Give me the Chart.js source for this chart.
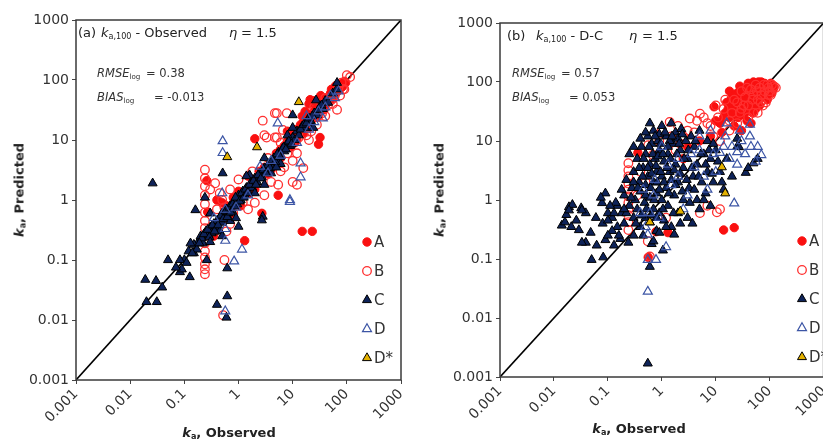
<!DOCTYPE html>
<html>
<head>
<meta charset="utf-8">
<script src="https://cdn.jsdelivr.net/npm/chart.js@4/dist/chart.umd.min.js"></script>
<style>
  html, body { margin: 0; padding: 0; background: #fff; overflow: hidden; width: 823px; height: 440px; }
  canvas { position: absolute; top: 0; }
  #chart-obs { left: 0; }
  #chart-dc { left: 410px; }
  .t { position: absolute; font-family: "DejaVu Sans", sans-serif; color: #222; white-space: nowrap; line-height: 1; }
  .t sub { font-size: 0.62em; vertical-align: -0.3em; line-height: 0; }
  .ttl { font-size: 13px; }
  .stat { font-size: 11.5px; color: #333; }
  .ax { font-size: 13px; font-weight: bold; transform: translate(-50%, -50%); }
  .ax.rot { transform: translate(-50%, -50%) rotate(-90deg); }
</style>
</head>
<body>
<canvas id="chart-obs" width="410" height="440"></canvas>
<canvas id="chart-dc" width="420" height="440"></canvas>

<!-- panel (a) annotations -->
<div class="t ttl" style="left:78px;top:26px">(a)</div>
<div class="t ttl" style="left:101px;top:26px"><i>k</i><sub>a,100</sub> - Observed</div>
<div class="t ttl" style="left:229px;top:26px"><i>η</i></div>
<div class="t ttl" style="left:241px;top:26px">= 1.5</div>
<div class="t stat" style="left:97px;top:68px"><i>RMSE</i><sub>log</sub></div>
<div class="t stat" style="left:146px;top:68px">= 0.38</div>
<div class="t stat" style="left:97px;top:92px"><i>BIAS</i><sub>log</sub></div>
<div class="t stat" style="left:154px;top:92px">= -0.013</div>
<div class="t ax rot" style="left:19px;top:190px"><i>k</i><sub>a</sub>, Predicted</div>
<div class="t ax" style="left:229px;top:432px"><i>k</i><sub>a</sub>, Observed</div>

<!-- panel (b) annotations -->
<div class="t ttl" style="left:507px;top:29px">(b)</div>
<div class="t ttl" style="left:536px;top:29px"><i>k</i><sub>a,100</sub> - D-C</div>
<div class="t ttl" style="left:629px;top:29px"><i>η</i></div>
<div class="t ttl" style="left:642px;top:29px">= 1.5</div>
<div class="t stat" style="left:512px;top:68px"><i>RMSE</i><sub>log</sub></div>
<div class="t stat" style="left:561px;top:68px">= 0.57</div>
<div class="t stat" style="left:512px;top:92px"><i>BIAS</i><sub>log</sub></div>
<div class="t stat" style="left:569px;top:92px">= 0.053</div>
<div class="t ax rot" style="left:439px;top:190px"><i>k</i><sub>a</sub>, Predicted</div>
<div class="t ax" style="left:639px;top:428px"><i>k</i><sub>a</sub>, Observed</div>

<script>
"use strict";

const TICKS = [0.001, 0.01, 0.1, 1, 10, 100, 1000];
const TICK_LABELS = ["0.001", "0.01", "0.1", "1", "10", "100", "1000"];
const LEGEND_LABELS = ["A", "B", "C", "D", "D*"];
const DIAGONAL = [[0.001, 0.001], [1000, 1000]];

/* (a) k_a,100 vs observed — [observed, predicted] */
const OBS_A = [
  [0.26, 2.1], [0.4, 1.0], [0.27, 0.63], [1.3, 0.21], [2.7, 0.6], [15, 0.3], [23, 0.3], [5.4, 1.2],
  [2.0, 10.5], [32, 11], [30, 8.5], [21, 47], [43, 41],
  [0.5, 0.9], [0.8, 1.1], [1.0, 1.4], [1.5, 2.5], [2.0, 1.5], [3, 3.5], [4, 3.2], [5, 6], [6, 5],
  [7, 8], [8, 9.5], [9, 7.5], [10, 12], [11, 9], [12, 10], [12, 15], [14, 18], [16, 13], [17, 30],
  [18, 22], [20, 16], [20, 40], [22, 27], [25, 30], [25, 45], [28, 24], [30, 36], [33, 55], [35, 40],
  [38, 32], [42, 50], [45, 45], [50, 60], [55, 48], [60, 70], [65, 62], [70, 80], [80, 75], [90, 95],
  [8, 14], [15, 25],
  [0.3, 0.3], [0.35, 0.25], [0.6, 0.8], [0.7, 0.55], [1.1, 0.8], [1.6, 1.3], [2.4, 3], [3.5, 2.7],
  [4.5, 4], [6, 7], [9, 11], [13, 13], [16, 20], [19, 17], [23, 22], [27, 33], [31, 28], [37, 42],
  [47, 52], [52, 70], [58, 55], [62, 80], [75, 85], [85, 80], [95, 90],
];
const OBS_B = [
  [0.24, 3.2], [0.24, 2.3], [0.24, 1.7], [0.24, 1.2], [0.24, 0.85], [0.24, 0.62], [0.24, 0.45],
  [0.24, 0.34], [0.24, 0.25], [0.24, 0.19], [0.24, 0.14], [0.24, 0.11], [0.24, 0.085], [0.24, 0.07],
  [0.24, 0.058], [0.55, 0.1], [0.55, 0.5], [0.55, 0.75], [0.52, 0.012],
  [0.3, 1.5], [0.37, 1.9], [0.45, 1.3], [0.7, 1.5], [1.0, 2.2], [1.2, 0.9], [0.8, 0.6],
  [4.7, 28], [2.8, 21], [3.0, 12], [4.7, 11], [6.6, 14.7], [9.6, 8.9], [7.8, 28], [5.1, 28], [3.3, 11],
  [5.1, 11], [10, 2.0], [12, 1.8], [5.4, 1.8], [15.7, 3.4], [1.8, 3], [2.5, 2], [3.5, 5], [6, 9], [8, 6],
  [13, 11], [18, 12], [20, 18], [25, 35], [30, 25], [35, 28], [40, 50], [45, 38], [50, 45], [60, 55],
  [66, 32], [70, 75], [80, 90], [85, 70], [100, 120], [115, 112],
  [0.6, 0.3], [0.7, 0.4], [1.5, 0.7], [2, 0.9], [3, 1.2], [4, 2], [7, 3.5], [12, 6], [20, 10],
  [22, 14], [28, 18], [40, 25], [55, 40], [75, 55], [90, 70], [0.4, 0.7], [0.5, 1.0], [6, 3], [10, 4.5],
];
const OBS_C = [
  [0.1, 0.1], [0.12, 0.14], [0.15, 0.13], [0.18, 0.2], [0.2, 0.25], [0.22, 0.19], [0.25, 0.3],
  [0.28, 0.26], [0.3, 0.35], [0.32, 0.28], [0.35, 0.4], [0.38, 0.33], [0.4, 0.45], [0.45, 0.5],
  [0.5, 0.42], [0.5, 0.6], [0.55, 0.55], [0.6, 0.7], [0.65, 0.6], [0.7, 0.8], [0.75, 0.68], [0.8, 0.9],
  [0.9, 1.0], [0.95, 0.85], [1.0, 1.2], [1.1, 1.0], [1.2, 1.4], [1.3, 1.2], [1.4, 1.6], [1.5, 1.4],
  [1.7, 1.9], [1.8, 1.6], [2.0, 2.3], [2.2, 2.0], [2.5, 2.8], [2.7, 2.4], [3.0, 3.4], [3.3, 3.0],
  [3.6, 4.0], [4.0, 3.7], [4.5, 5.0], [5.0, 4.6], [5.5, 6.2], [6.0, 5.5], [6.5, 7.2], [7.0, 6.5],
  [8.0, 9.0], [9.0, 8.0], [10, 11], [11, 10], [12, 14], [13, 12], [15, 17], [17, 16], [19, 22],
  [22, 20], [25, 28], [28, 26], [32, 36], [36, 33], [40, 45], [45, 42], [55, 60], [65, 70], [66, 90],
  [8, 12], [10, 16], [6, 4], [4, 2.8], [2, 1.3], [0.7, 0.45], [1.6, 2.6], [3, 5], [0.45, 0.3],
  [0.15, 0.18], [0.17, 0.15], [0.21, 0.23], [0.23, 0.27], [0.27, 0.32], [0.29, 0.24], [0.33, 0.38],
  [0.36, 0.3], [0.42, 0.38], [0.47, 0.55], [0.52, 0.48], [0.58, 0.65], [0.62, 0.52], [0.68, 0.75],
  [0.72, 0.62], [0.78, 0.85], [0.85, 0.78], [0.88, 1.1], [1.05, 0.95], [1.15, 1.3], [1.25, 1.1],
  [1.35, 1.5], [1.45, 1.3], [1.6, 1.8], [1.9, 2.1], [2.1, 1.8], [2.3, 2.6], [2.6, 2.3], [2.9, 3.2],
  [3.2, 2.8], [3.5, 3.8], [3.8, 3.4], [4.2, 4.6], [4.8, 4.3], [5.2, 5.8], [5.8, 5.2], [6.8, 7.5],
  [7.5, 7], [8.5, 9.5], [9.5, 8.5], [14, 15], [16, 18], [18, 19], [20, 23], [23, 25], [30, 32],
  [34, 38], [0.3, 0.6], [0.5, 0.25], [0.9, 0.5], [1.4, 2.5], [5, 3.5], [3, 1.8],
  [0.026, 1.9], [0.019, 0.047], [0.03, 0.045], [0.039, 0.035], [0.02, 0.02], [0.031, 0.02],
  [0.05, 0.1], [0.083, 0.1], [0.083, 0.063], [0.126, 0.052], [0.14, 0.13], [0.13, 0.19],
  [0.19, 0.19], [0.3, 0.2], [0.4, 0.018], [0.62, 0.025], [0.6, 0.011], [0.62, 0.073], [0.26, 0.1],
  [0.51, 2.8], [24, 16], [10, 26], [27, 46], [0.16, 0.68], [2.8, 0.53], [2.7, 0.46], [1.0, 0.36],
  [0.09, 0.07], [0.11, 0.09], [0.07, 0.075], [0.24, 1.1],
];
const OBS_D = [
  [0.51, 9.6], [0.51, 6.1], [5.3, 19], [8.9, 1.0], [14, 4.1], [14, 2.4], [36, 23], [2.5, 3.6],
  [8.9, 0.93], [1.16, 0.15], [0.83, 0.095], [0.57, 0.33], [0.57, 0.21], [0.57, 0.69], [0.57, 0.014],
  [20, 15], [40, 35], [50, 55], [30, 30], [60, 50], [12, 9], [6, 5.5], [3.5, 2.8], [1.5, 1.2],
  [0.9, 0.75], [0.35, 0.5], [0.5, 1.3], [18, 25], [70, 65], [4, 4.5], [25, 20],
];
const OBS_DSTAR = [[13, 43], [2.2, 7.6], [0.62, 5.2]];

/* (b) k_a,100 vs D-C — [observed, predicted] */
const DC_A = [
  [0.36, 6.3], [9.3, 38], [14, 0.31], [22, 0.34], [0.78, 0.29], [1.3, 0.28], [0.56, 0.107],
  [12, 20], [15, 30], [18, 25], [20, 40], [22, 18], [25, 35], [28, 50], [30, 28], [32, 60], [35, 45],
  [38, 22], [40, 70], [42, 38], [45, 55], [48, 30], [50, 80], [55, 45], [60, 90], [60, 62], [65, 40],
  [70, 75], [75, 55], [80, 95], [85, 70], [90, 50], [100, 85], [110, 65], [120, 80], [30, 15],
  [45, 20], [20, 55], [16, 45], [50, 100], [70, 100], [40, 95], [25, 65], [35, 30], [55, 35],
  [13, 14], [10, 22], [8, 12], [5, 10], [3, 8], [2.5, 5], [18, 70], [28, 85],
  [14, 25], [17, 35], [19, 50], [21, 28], [23, 60], [24, 42], [26, 25], [29, 40], [31, 75], [33, 52],
  [36, 65], [39, 48], [41, 85], [44, 62], [46, 42], [49, 72], [52, 55], [54, 95], [57, 68], [62, 75],
  [66, 55], [68, 88], [72, 65], [78, 80], [82, 60], [88, 85], [92, 75], [105, 95], [115, 75], [62, 100],
];
const DC_B = [
  [0.24, 4.2], [0.24, 3.2], [0.24, 2.5], [0.24, 1.9], [0.24, 1.5], [0.24, 1.15], [0.24, 0.9],
  [0.24, 0.7], [0.24, 0.55], [0.24, 0.42], [0.24, 0.31],
  [0.56, 8.5], [0.68, 5.8], [5.1, 29], [1.4, 21], [3.3, 24], [5.1, 0.6], [10.5, 0.62], [7, 0.8],
  [12, 0.7], [0.6, 0.11], [0.55, 0.2], [1.0, 15], [2, 18], [2.5, 12], [0.9, 10], [1.8, 7], [4, 14],
  [7, 20], [9, 12], [0.4, 3], [0.5, 2], [0.35, 1.2], [1.2, 0.5],
  [15, 50], [20, 30], [25, 45], [30, 70], [35, 55], [40, 40], [45, 75], [50, 60], [55, 90], [60, 50],
  [65, 80], [70, 60], [80, 70], [90, 90], [100, 70], [110, 90], [120, 85], [85, 45], [40, 25],
  [30, 35], [60, 30], [75, 40], [18, 15], [12, 10], [25, 20], [50, 30], [95, 60], [130, 80], [10, 40],
  [22, 50], [33, 40], [38, 80], [48, 50], [58, 70], [68, 45], [78, 90], [95, 80], [105, 60], [28, 30],
  [18, 22], [3, 15], [4.5, 22], [6, 25], [8, 18], [11, 25], [14, 35], [2.2, 9], [1.5, 12],
];
const DC_C = [
  [0.019, 0.76], [0.032, 0.73], [0.039, 0.6], [0.017, 0.56], [0.014, 0.37], [0.021, 0.35],
  [0.029, 0.31], [0.048, 0.28], [0.039, 0.19], [0.062, 0.17], [0.09, 0.21], [0.05, 0.097],
  [0.082, 0.107], [0.078, 0.89], [0.033, 0.19], [0.09, 1.3], [0.074, 1.1], [0.022, 0.83],
  [0.019, 0.67], [0.033, 0.67], [0.026, 0.45], [0.016, 0.42],
  [0.12, 0.5], [0.15, 0.35], [0.15, 0.8], [0.18, 0.6], [0.2, 1.2], [0.2, 0.4], [0.22, 2.2],
  [0.25, 0.8], [0.28, 1.6], [0.3, 0.5], [0.3, 3], [0.32, 1], [0.35, 0.7], [0.35, 5], [0.38, 2],
  [0.4, 0.35], [0.4, 1.4], [0.42, 8], [0.45, 3.5], [0.48, 0.9], [0.5, 0.5], [0.5, 1.8], [0.5, 6],
  [0.55, 12], [0.55, 2.5], [0.6, 0.42], [0.6, 1.1], [0.6, 4], [0.65, 9], [0.7, 0.7], [0.7, 2],
  [0.7, 15], [0.75, 5], [0.8, 0.3], [0.8, 1.3], [0.8, 3], [0.85, 10], [0.9, 0.6], [0.9, 7], [1, 1],
  [1, 2.5], [1, 18], [1.1, 0.45], [1.1, 4.5], [1.2, 12], [1.2, 1.6], [1.3, 0.8], [1.3, 6], [1.4, 3],
  [1.5, 20], [1.5, 0.35], [1.6, 9], [1.7, 1.2], [1.8, 4], [1.8, 14], [2, 0.6], [2, 2], [2.2, 7],
  [2.3, 16], [2.5, 1], [2.5, 3.5], [2.8, 10], [3, 0.5], [3, 5], [3.2, 1.6], [3.5, 12], [3.7, 0.4],
  [3.8, 2.5], [4, 8], [4.5, 1], [4.5, 4], [5, 15], [5, 0.7], [5.5, 2], [6, 6], [6.5, 1.3], [7, 10],
  [7, 3], [8, 0.8], [8, 5], [9, 2], [10, 7], [12, 3], [14, 1.5], [16, 5], [20, 2.5], [25, 8],
  [27, 7.9], [25, 11], [36, 2.9], [50, 4.2], [40, 3.5], [60, 5],
  [0.6, 0.074], [0.55, 0.0017], [1.05, 0.14], [1.7, 0.26], [2.2, 0.4], [0.24, 0.19], [0.12, 0.3],
  [0.1, 0.25], [0.13, 0.17], [0.17, 0.22], [0.08, 0.4], [0.1, 0.6], [0.06, 0.5], [0.45, 0.25],
  [0.65, 0.18], [0.9, 13], [1.4, 10], [2, 11], [0.5, 14], [0.4, 11], [0.3, 8], [0.25, 6], [0.6, 20],
  [0.22, 0.6], [0.27, 1.1], [0.3, 2], [0.33, 0.4], [0.36, 1.6], [0.38, 3.5], [0.42, 0.55], [0.44, 2.5],
  [0.46, 5], [0.5, 1.2], [0.52, 0.7], [0.55, 3.5], [0.58, 8], [0.62, 1.6], [0.65, 0.55], [0.65, 2.8],
  [0.68, 6], [0.72, 1], [0.75, 12], [0.78, 3.8], [0.8, 0.5], [0.82, 2], [0.85, 5.5], [0.9, 1.5],
  [0.95, 3], [0.95, 9], [1.05, 0.7], [1.05, 6], [1.1, 2], [1.15, 14], [1.2, 0.35], [1.25, 3.5],
  [1.3, 8], [1.35, 1.3], [1.45, 5], [1.5, 2.2], [1.55, 12], [1.65, 0.6], [1.7, 3.2], [1.8, 1.8],
  [1.9, 6], [2.1, 9], [2.2, 2.8], [2.4, 1.4], [2.4, 13], [2.6, 5], [2.9, 2.2], [3.1, 7], [3.3, 0.9],
  [3.6, 3.5], [4, 1.5], [4.2, 10], [4.8, 2.5], [5.3, 6], [6, 1], [6.5, 4], [7.5, 7], [8.5, 2.8],
  [9, 9], [11, 4.5], [13, 2], [0.2, 0.7], [0.18, 1.5], [0.14, 0.9], [0.13, 0.6], [0.16, 0.25],
  [0.1, 0.45], [0.11, 0.8], [0.3, 0.25], [0.7, 0.2], [0.9, 0.28],
];
const DC_D = [
  [0.55, 0.028], [0.78, 0.097], [1.2, 0.16], [0.55, 0.097], [0.55, 0.26], [70, 5.8], [43, 12],
  [22, 0.88], [16, 20], [43, 19], [0.74, 2.2], [4, 3.6], [12, 6.3], [30, 10], [20, 8], [8, 15], [5, 7],
  [2, 5], [1.5, 1.8], [3, 1.2], [10, 3], [25, 4], [0.9, 0.5], [0.45, 1.5], [6, 2.5], [15, 12], [35, 6],
  [60, 8], [1, 8], [0.6, 0.6], [2.5, 0.7], [7, 1.5],
  [0.7, 1.2], [1.3, 4], [2, 2.5], [3.5, 6], [5, 12], [9, 6], [14, 8], [18, 5], [25, 6.5], [45, 8],
  [55, 4.5], [28, 15], [0.5, 0.35], [0.4, 0.6],
];
const DC_DSTAR = [[13, 3.6], [15, 1.3], [2.2, 0.64], [0.6, 0.42]];

const STYLES = [
  { pointStyle: "circle", radius: 4.2, bg: "#fa1010", border: "#fa1010", bw: 1 },
  { pointStyle: "circle", radius: 4.3, bg: "rgba(0,0,0,0)", border: "#ff3030", bw: 1.3 },
  { pointStyle: "triangle", radius: 5.2, bg: "#0e2359", border: "#000", bw: 1 },
  { pointStyle: "triangle", radius: 5.2, bg: "rgba(0,0,0,0)", border: "#3c55a5", bw: 1.2 },
  { pointStyle: "triangle", radius: 5.2, bg: "#e3b100", border: "#000", bw: 1 },
];

Chart.defaults.font.family = '"DejaVu Sans", sans-serif';

/* Plot frame plus the in-plot legend (marker column with labels). */
const frameLegend = {
  id: "frameLegend",
  afterDatasetsDraw(chart, args, opts) {
    const { ctx, chartArea: a } = chart;
    ctx.save();
    ctx.strokeStyle = "#3a3a3a";
    ctx.lineWidth = 1.5;
    ctx.strokeRect(a.left, a.top, a.right - a.left, a.bottom - a.top);
    ctx.font = '15px "DejaVu Sans"';
    ctx.textBaseline = "middle";
    STYLES.forEach((s, i) => {
      const y = opts.y + i * opts.dy;
      ctx.fillStyle = s.bg;
      ctx.strokeStyle = s.border;
      ctx.lineWidth = s.bw;
      Chart.helpers.drawPoint(ctx, { pointStyle: s.pointStyle, radius: s.radius, borderWidth: s.bw, rotation: 0 }, opts.x, y);
      ctx.fillStyle = "#333";
      ctx.fillText(LEGEND_LABELS[i], opts.x + 7, y + 1);
    });
    ctx.restore();
  },
};

function logAxis(isX, size) {
  return {
    type: "logarithmic",
    min: 0.001,
    max: 1000,
    afterBuildTicks: (s) => { s.ticks = TICKS.map((value) => ({ value })); },
    afterFit: (s) => {
      if (isX) s.height = size; else s.width = size;
      s.paddingLeft = s.paddingRight = s.paddingTop = s.paddingBottom = 0;
    },
    ticks: {
      callback: (v, i) => TICK_LABELS[i],
      autoSkip: false,
      color: "#333",
      font: { size: 14 },
      padding: isX ? 2 : 3,
      minRotation: isX ? 45 : 0,
      maxRotation: isX ? 45 : 0,
    },
    grid: { drawOnChartArea: false, drawTicks: true, tickLength: 4, color: "#444" },
    border: { display: false },
  };
}

function panel(id, groups, layout) {
  const datasets = groups.map((pts, i) => ({
    label: LEGEND_LABELS[i],
    data: pts.map(([x, y]) => ({ x, y })),
    pointStyle: STYLES[i].pointStyle,
    pointRadius: STYLES[i].radius,
    backgroundColor: STYLES[i].bg,
    borderColor: STYLES[i].border,
    borderWidth: STYLES[i].bw,
    order: 5 - i,
  }));
  datasets.push({
    label: "1:1",
    data: DIAGONAL.map(([x, y]) => ({ x, y })),
    showLine: true,
    pointRadius: 0,
    borderColor: "#000",
    borderWidth: 1.6,
    order: 9,
  });
  new Chart(document.getElementById(id), {
    type: "scatter",
    data: { datasets },
    plugins: [frameLegend],
    options: {
      responsive: false,
      animation: false,
      events: [],
      layout: { padding: layout.padding },
      plugins: {
        legend: { display: false },
        tooltip: { enabled: false },
        frameLegend: layout.legend,
      },
      scales: {
        x: logAxis(true, layout.xHeight),
        y: logAxis(false, layout.yWidth),
      },
    },
  });
}

panel("chart-obs", [OBS_A, OBS_B, OBS_C, OBS_D, OBS_DSTAR], {
  padding: { top: 20, right: 9, left: 0, bottom: 0 },
  yWidth: 76, xHeight: 60,
  legend: { x: 367, y: 242, dy: 29 },
});
panel("chart-dc", [DC_A, DC_B, DC_C, DC_D, DC_DSTAR], {
  padding: { top: 23, right: 2, left: 0, bottom: 0 },
  yWidth: 90, xHeight: 63,
  legend: { x: 392, y: 241, dy: 29 },
});
</script>
</body>
</html>
